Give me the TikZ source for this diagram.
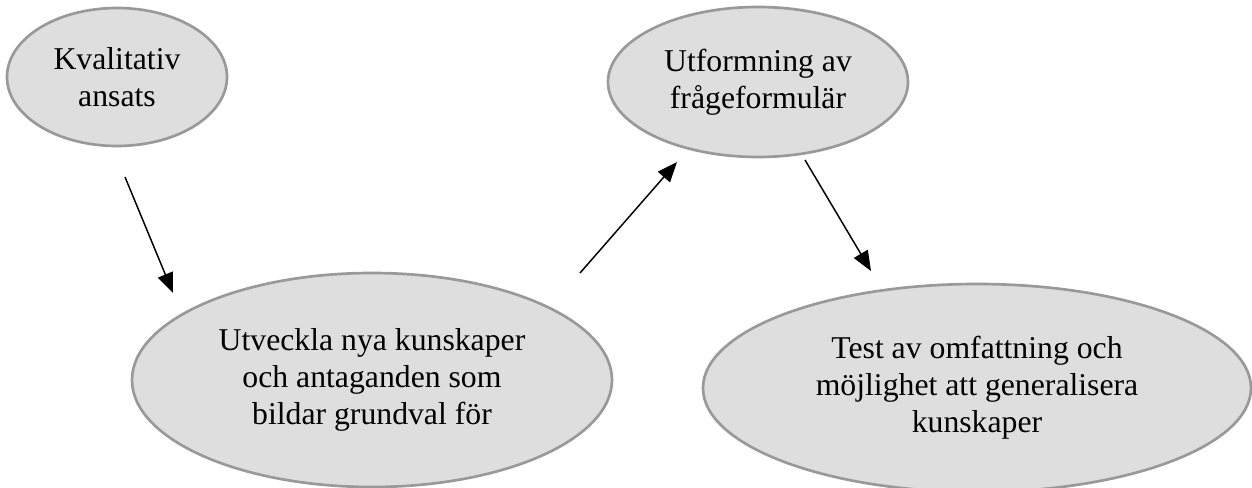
\documentclass[tikz,border=0pt]{standalone}
\usepackage{fontspec}
\setmainfont{Liberation Serif}
\usetikzlibrary{shapes.geometric,arrows.meta}
\definecolor{ellfill}{HTML}{DEDEDE}
\definecolor{elldraw}{HTML}{999999}
\tikzset{
  bubble/.style={ellipse, draw=elldraw, fill=ellfill, line width=2pt, inner sep=0pt,
    align=center, font=\fontsize{23.8}{27.8}\selectfont},
  flow/.style={line width=1.1pt, -{Triangle[length=15pt,width=12pt]}}
}
\begin{document}
\begin{tikzpicture}[x=0.75pt,y=-0.75pt]
\useasboundingbox (0,0) rectangle (1252,488);
\node[bubble, minimum width=165pt, minimum height=103.5pt] (kval) at (117,77) {Kvalitativ\\ansats};
\node[bubble, minimum width=360pt, minimum height=160.5pt] (utv) at (372,380) {Utveckla nya kunskaper\\och antaganden som\\bildar grundval för};
\node[bubble, minimum width=225pt, minimum height=112.5pt] (utf) at (758,82) {Utformning av\\frågeformulär};
\node[bubble, minimum width=411pt, minimum height=156pt] (test) at (977,388) {Test av omfattning och\\möjlighet att generalisera\\kunskaper};
\coordinate (a1s) at (125,177);
\coordinate (a1e) at (173,293);
\coordinate (a2s) at (580,273);
\coordinate (a2e) at (677,162);
\coordinate (a3s) at (805,160);
\coordinate (a3e) at (871,271);
\draw[flow] (a1s) -- (a1e);
\draw[flow] (a2s) -- (a2e);
\draw[flow] (a3s) -- (a3e);
\end{tikzpicture}
\end{document}
